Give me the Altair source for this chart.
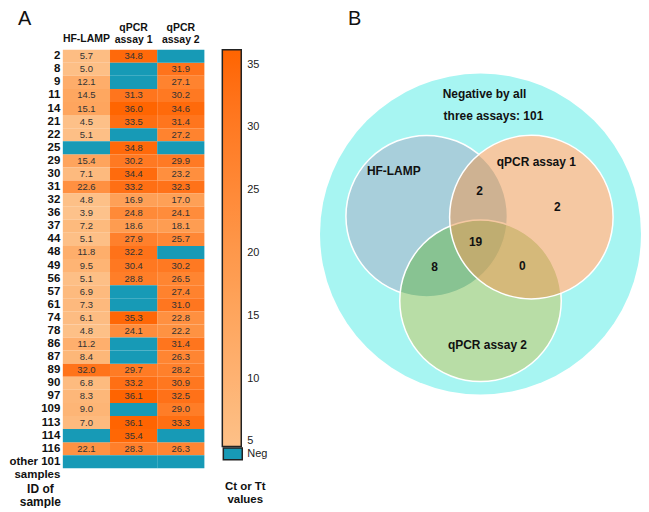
import altair as alt
import pandas as pd

FONT = "Liberation Sans"

# ---------------- Panel A data ----------------
ids = ["2", "8", "9", "11", "14", "21", "22", "25", "29", "30", "31", "32", "36", "37",
       "44", "48", "49", "56", "57", "61", "74", "78", "86", "87", "89", "90", "97",
       "109", "113", "114", "116", "other 101 samples"]
hf_lamp = [5.7, 5.0, 12.1, 14.5, 15.1, 4.5, 5.1, None, 15.4, 7.1, 22.6, 4.8, 3.9, 7.2,
           5.1, 11.8, 9.5, 5.1, 6.9, 7.3, 6.1, 4.8, 11.2, 8.4, 32.0, 6.8, 8.3,
           9.0, 7.0, None, 22.1, None]
qpcr1 = [34.8, None, None, 31.3, 36.0, 33.5, None, 34.8, 30.2, 34.4, 33.2, 16.9, 24.8, 18.6,
         27.9, 32.2, 30.4, 28.8, None, None, 35.3, 24.1, None, None, 29.7, 33.2, 36.1,
         None, 36.1, 35.4, 28.3, None]
qpcr2 = [None, 31.9, 27.1, 30.2, 34.6, 31.4, 27.2, None, 29.9, 23.2, 32.3, 17.0, 24.1, 18.1,
         25.7, None, 30.2, 26.5, 27.4, 31.0, 22.8, 22.2, 31.4, 26.3, 28.2, 30.9, 32.5,
         29.0, 33.3, None, 26.3, None]
assays = ["HF-LAMP", "qPCR|assay 1", "qPCR|assay 2"]
legend_ticks = [5, 10, 15, 20, 25, 30, 35]
color_domain = [4.6, 36.2]

# ---------------- Panel B data ----------------
circle_names = ["all samples", "HF-LAMP", "qPCR assay 2", "qPCR assay 1"]
circle_x = [480, 426, 480, 531]
circle_y = [234, 216, 301, 217]
circle_r = [161, 81, 81, 82]
venn_labels = ["Negative by all", "three assays: 101", "HF-LAMP", "qPCR  assay 1",
               "2", "2", "19", "8", "0", "qPCR assay 2"]
venn_label_x = [484, 493, 393, 536, 479, 557, 475, 434, 522, 487]
venn_label_y = [93, 116, 171, 162, 191, 207, 242, 267, 266, 345]

rows = []
for i, sid in enumerate(ids):
    for a, vals in zip(assays, [hf_lamp, qpcr1, qpcr2]):
        rows.append({"id": sid, "assay": a, "value": vals[i], "status": "Neg"})
df = pd.DataFrame(rows)

TEAL = "#179AB6"
HEAT_W, HEAT_H = 142, 420

base = alt.Chart(df).encode(
    x=alt.X("assay:N", sort=assays,
            scale=alt.Scale(paddingInner=0, paddingOuter=0),
            axis=alt.Axis(orient="top", title=None, labelAngle=0,
                          labelExpr="split(datum.label, '|')",
                          labelFont=FONT, labelFontWeight="bold", labelFontSize=10.5,
                          labelColor="#111", labelLineHeight=12, labelBaseline="bottom",
                          labelPadding={"condition": {"test": "datum.value == 'HF-LAMP'", "value": 6},
                                        "value": 17},
                          domain=False, ticks=False)),
    y=alt.Y("id:N", sort=ids,
            scale=alt.Scale(paddingInner=0, paddingOuter=0),
            axis=alt.Axis(title=["ID of", "sample"], titleAngle=0,
                          titleFont=FONT, titleFontSize=12, titleFontWeight="bold",
                          titleColor="#111", titleAlign="center", titleBaseline="top",
                          titleX=-23, titleY=435, titleLineHeight=13,
                          labelFont=FONT, labelFontWeight="bold", labelFontSize=11.5,
                          labelColor="#111", labelPadding=3, labelLineHeight=13,
                          labelExpr="datum.value == 'other 101 samples' ? ['other 101', 'samples'] : datum.label",
                          domain=False, ticks=False)),
)

pos = base.transform_filter("isValid(datum.value)").mark_rect().encode(
    color=alt.Color("value:Q",
                    scale=alt.Scale(domain=color_domain, range=["#FDC088", "#FF6400"], nice=False),
                    legend=alt.Legend(title=None, values=legend_ticks, gradientLength=398,
                                      gradientThickness=19, gradientStrokeColor="#222",
                                      gradientStrokeWidth=1.5, labelFont=FONT, labelFontSize=11,
                                      labelColor="#222", labelOffset=6, orient="none",
                                      legendX=HEAT_W + 18, legendY=0,
                                      direction="vertical")))

neg = base.transform_filter("!isValid(datum.value)").mark_rect().encode(
    fill=alt.Fill("status:N", scale=alt.Scale(range=[TEAL]),
                  legend=alt.Legend(title=["Ct or Tt", "values"], titleOrient="bottom",
                                    titleFont=FONT, titleFontSize=11.5, titleFontWeight="bold",
                                    titleColor="#111", titleAnchor="middle", titlePadding=19,
                                    titleLineHeight=13,
                                    symbolType="M-1,-0.62L1,-0.62L1,0.62L-1,0.62Z",
                                    symbolSize=361, symbolStrokeColor="#222",
                                    symbolStrokeWidth=1.5, labelFont=FONT, labelFontSize=11,
                                    labelColor="#222", labelOffset=4, orient="none",
                                    legendX=HEAT_W + 18, legendY=395)))

txt = base.transform_filter("isValid(datum.value)").mark_text(
    font=FONT, fontSize=9.5, color="#333").encode(text=alt.Text("value:Q", format=".1f"))

heat = alt.layer(pos, neg, txt).properties(
    width=HEAT_W, height=HEAT_H,
    title=alt.TitleParams("A", anchor="start", frame="group", fontSize=20,
                          fontWeight="normal", font=FONT, dx=-45, offset=-6, color="#111"))

# ---------------- Venn ----------------
X0, Y0, W, H = 300, 49, 330, 420
cdf = pd.DataFrame({"name": circle_names, "x": circle_x, "y": circle_y, "r": circle_r})
cdf["size"] = (2 * cdf["r"]) ** 2
ldf = pd.DataFrame({"label": venn_labels, "x": venn_label_x, "y": venn_label_y})

xs = alt.X("x:Q", scale=alt.Scale(domain=[X0, X0 + W], nice=False, zero=False), axis=None)
ys = alt.Y("y:Q", scale=alt.Scale(domain=[Y0, Y0 + H], reverse=True, nice=False, zero=False), axis=None)
sz = alt.Size("size:Q", scale=None, legend=None)

cbase = alt.Chart(cdf).encode(x=xs, y=ys, size=sz)
outer = cbase.transform_filter("datum.name == 'all samples'").mark_point(
    shape="circle", filled=True, color="#A7F5F2", opacity=1)
white = cbase.transform_filter("datum.name != 'all samples'").mark_point(
    shape="circle", filled=True, color="white", opacity=1)
blue = cbase.transform_filter("datum.name == 'HF-LAMP'").mark_point(
    shape="circle", filled=True, fill="#A8CFDB", fillOpacity=1,
    stroke="white", strokeWidth=1.5, strokeOpacity=1)
green = cbase.transform_filter("datum.name == 'qPCR assay 2'").mark_point(
    shape="circle", filled=True, fill="#61B339", fillOpacity=0.45,
    stroke="white", strokeWidth=1.5, strokeOpacity=1)
orange = cbase.transform_filter("datum.name == 'qPCR assay 1'").mark_point(
    shape="circle", filled=True, fill="#ED9B56", fillOpacity=0.55,
    stroke="white", strokeWidth=1.5, strokeOpacity=1)
labels = alt.Chart(ldf).mark_text(font=FONT, fontSize=12, fontWeight="bold",
                                  color="#111").encode(x=xs, y=ys, text="label:N")

venn = alt.layer(outer, white, blue, green, orange, labels).properties(
    width=W, height=H,
    title=alt.TitleParams("B", anchor="start", frame="group", fontSize=20,
                          fontWeight="normal", font=FONT, dx=47, offset=21, color="#111"))

chart = alt.hconcat(heat, venn, spacing=33).resolve_legend(
    color="independent", fill="independent", size="independent").resolve_scale(
    x="independent", y="independent", color="independent", fill="independent",
    size="independent").properties(padding=0).configure(
    font=FONT, view=alt.ViewConfig(stroke=None))

chart.save("out.html", embed_options={"renderer": "svg", "actions": False})
